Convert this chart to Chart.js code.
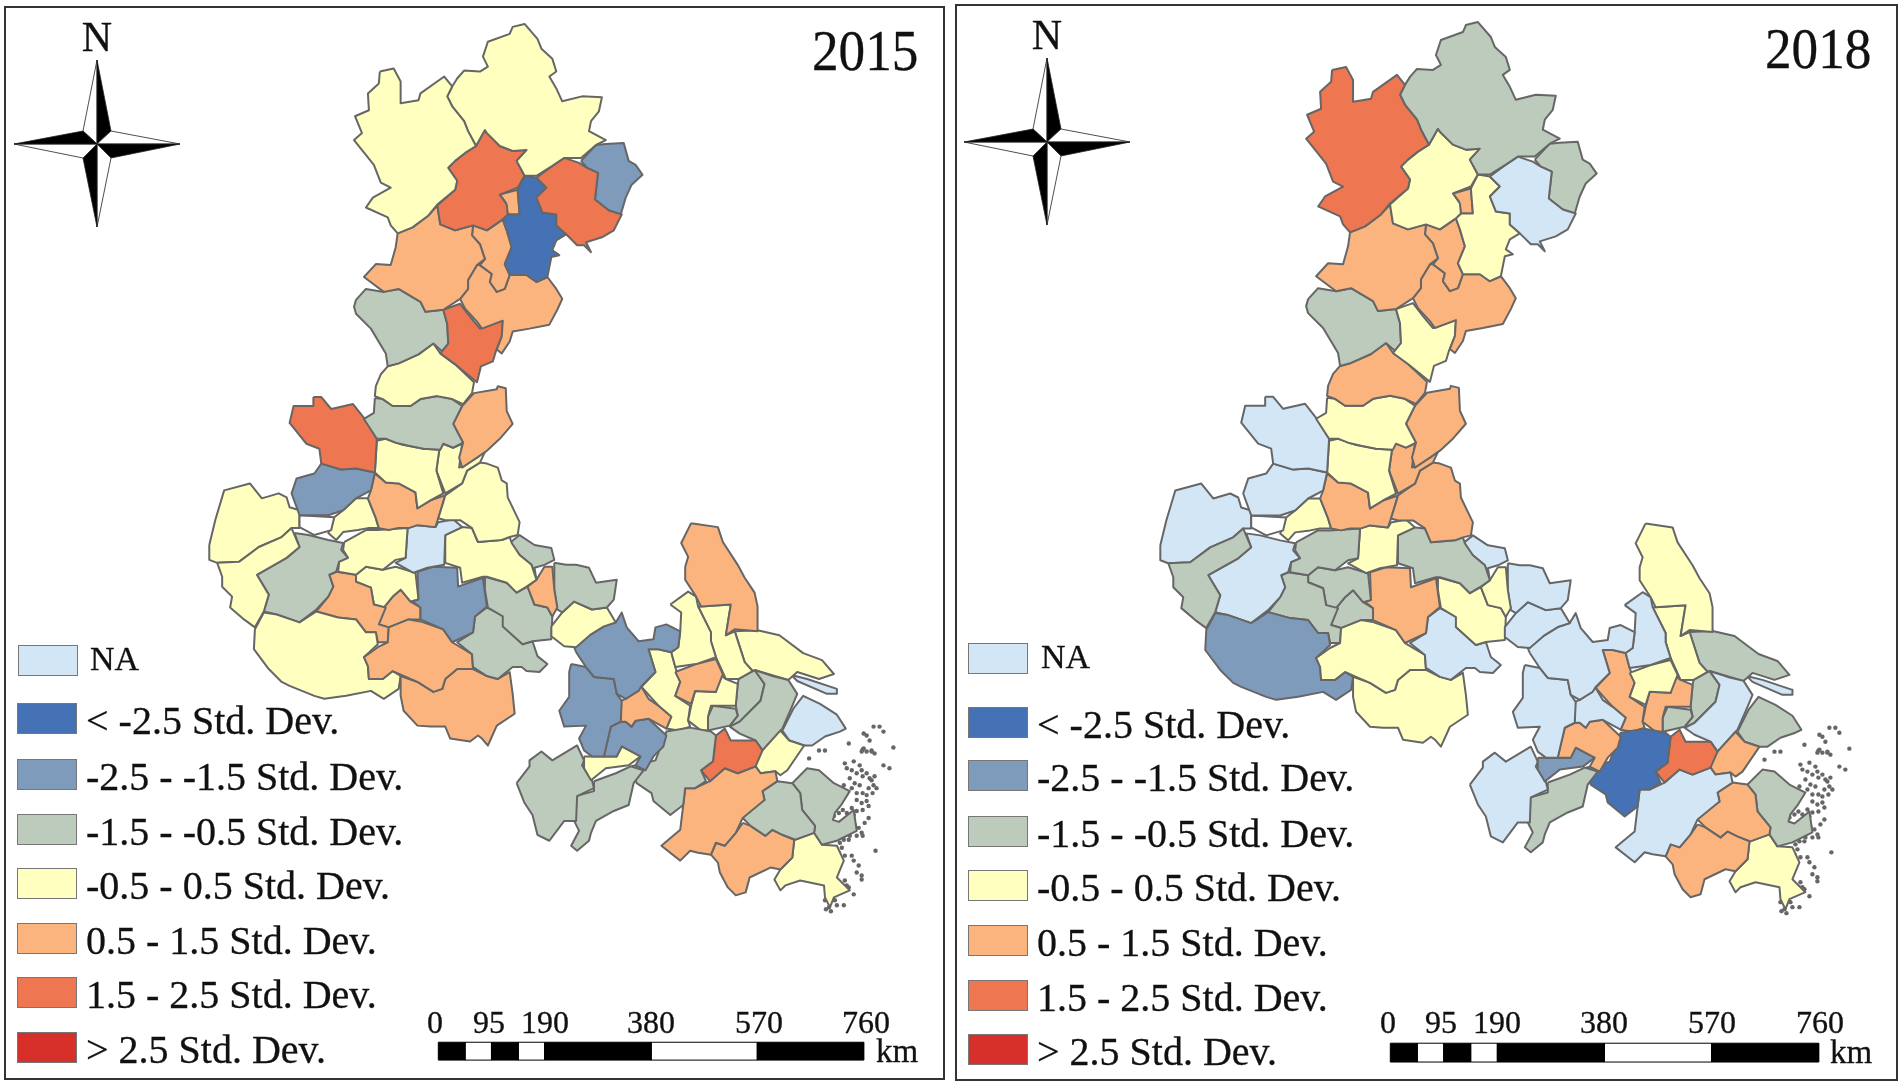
<!DOCTYPE html>
<html>
<head>
<meta charset="utf-8">
<title>Std. Dev. map 2015 / 2018</title>
<script src="https://cdn.jsdelivr.net/npm/chart.js@4/dist/chart.umd.js"></script>
<style>
  html, body { margin: 0; padding: 0; background: #fff; }
  body { width: 1902px; height: 1087px; position: relative; overflow: hidden; font-family: "Liberation Serif", serif; color: #111; }
  .panel { position: absolute; outline: 2px solid #333; background: #fff; }
  .panel canvas { position: absolute; left: 0; top: 0; }
  .txt { position: absolute; white-space: nowrap; line-height: 1; -webkit-text-stroke: 0.3px #111; }
  .swatch { position: absolute; box-sizing: border-box; border: 1.5px solid #777; }
  svg { position: absolute; }
</style>
</head>
<body>
<script>
// Class labels and fills, same order in the legend
const legendLabels = ["NA", "< -2.5 Std. Dev.", "-2.5 - -1.5 Std. Dev.", "-1.5 - -0.5 Std. Dev.", "-0.5 - 0.5 Std. Dev.", "0.5 - 1.5 Std. Dev.", "1.5 - 2.5 Std. Dev.", "> 2.5 Std. Dev."];
const legendColors = ["#d3e6f5", "#4472b4", "#7f9bbb", "#bdcbbd", "#ffffc0", "#fbb47e", "#ee7650", "#d7302a"];
const years = ["2015", "2018"];
const scaleTicks = [0, 95, 190, 380, 570, 760];
const scaleBreaks = [0, 47.5, 95, 142.5, 190, 380, 570, 760];

// Region outlines
const r1 = [[379,68],[393,65],[400,78],[400,100],[418,97],[420,90],[444,73],[452,83],[447,93],[452,103],[464,118],[468,128],[476,143],[465,150],[455,158],[448,165],[457,178],[455,187],[437,202],[428,213],[412,225],[397,231],[390,223],[387,215],[365,205],[372,195],[390,185],[380,180],[373,162],[353,137],[361,130],[354,113],[368,107],[367,90],[378,80]];
const r2 = [[447,93],[452,83],[457,75],[464,67],[480,68],[488,63],[483,53],[488,38],[510,30],[513,23],[525,20],[538,35],[542,45],[553,55],[557,68],[550,73],[557,85],[563,98],[583,93],[603,94],[600,108],[592,118],[590,128],[607,137],[597,142],[582,155],[565,155],[553,163],[537,173],[525,173],[517,158],[527,147],[513,148],[500,143],[487,130],[485,127],[476,143],[468,128],[464,118],[452,103]];
const r3 = [[476,143],[485,127],[487,130],[500,143],[513,148],[527,147],[517,158],[525,173],[518,185],[500,192],[507,202],[508,212],[503,217],[487,228],[473,223],[455,228],[440,222],[437,203],[455,187],[457,178],[448,165],[455,158],[465,150]];
const r4 = [[565,155],[580,160],[588,165],[599,170],[596,197],[610,208],[623,212],[615,228],[603,235],[587,240],[592,250],[585,243],[578,243],[567,232],[557,223],[557,212],[543,210],[537,195],[547,185],[537,175],[553,163]];
const r5 = [[582,158],[597,142],[607,141],[625,140],[630,158],[637,162],[644,172],[633,182],[627,195],[622,212],[610,208],[596,197],[599,170],[588,165]];
const r6 = [[525,173],[537,175],[547,185],[537,195],[543,210],[557,212],[557,223],[567,232],[557,238],[553,248],[560,253],[552,255],[548,275],[537,280],[527,273],[510,273],[505,262],[512,245],[507,228],[503,217],[508,212],[520,212],[518,187]];
const r7 = [[500,192],[518,187],[520,212],[508,212],[506,200]];
const r8 = [[397,231],[412,225],[428,213],[437,203],[440,222],[455,228],[473,223],[472,233],[480,242],[485,257],[477,263],[468,278],[468,287],[460,297],[443,308],[425,310],[420,300],[398,287],[383,290],[363,275],[375,262],[390,263],[395,245]];
const r9 = [[473,223],[487,228],[503,217],[507,228],[512,245],[505,262],[510,273],[505,287],[497,290],[490,280],[492,272],[480,263],[485,257],[480,242],[472,233]];
const r10 = [[477,263],[480,263],[492,272],[490,280],[497,290],[505,287],[510,273],[527,273],[537,280],[548,275],[557,287],[563,297],[558,308],[550,323],[530,327],[513,330],[510,340],[502,352],[497,348],[502,335],[503,319],[482,327],[477,320],[465,307],[460,297],[468,287],[468,278]];
const r11 = [[443,308],[460,302],[470,315],[480,327],[503,319],[502,335],[496,350],[493,360],[481,365],[477,381],[455,363],[440,352],[448,342],[447,322]];
const r12 = [[355,298],[365,287],[383,290],[398,287],[420,300],[425,310],[443,308],[447,322],[448,342],[442,350],[433,342],[418,353],[398,362],[387,365],[385,352],[370,327],[355,312],[353,305]];
const r13 = [[387,365],[398,362],[418,353],[433,342],[440,352],[455,363],[474,381],[472,392],[463,403],[452,398],[437,395],[420,398],[410,405],[392,405],[382,398],[374,395],[375,385],[380,373]];
const r14 = [[374,397],[382,398],[392,405],[410,405],[420,398],[437,395],[452,398],[462,405],[453,423],[463,442],[453,447],[443,443],[440,449],[423,448],[408,445],[395,442],[385,438],[376,438],[363,418],[373,412]];
const r15 = [[462,405],[474,392],[497,388],[498,385],[506,387],[507,410],[513,423],[500,438],[487,450],[477,457],[462,467],[459,457],[463,442],[453,423]];
const r16 = [[312,396],[320,396],[330,408],[352,403],[363,417],[376,438],[374,472],[355,468],[340,469],[320,463],[318,448],[305,443],[288,422],[292,405],[312,405]];
const r17 = [[320,463],[340,469],[355,468],[374,472],[370,490],[355,498],[342,510],[327,515],[298,515],[290,493],[295,478],[313,473]];
const r18 = [[376,440],[385,438],[402,444],[423,448],[439,449],[436,470],[443,493],[430,500],[417,508],[415,492],[398,483],[385,482],[374,472]];
const r19 = [[395,460],[405,460],[407,473],[427,470],[430,473],[417,487],[405,485],[393,473]];
const r18b = [[436,470],[443,493],[430,500],[417,508],[415,492],[405,485],[417,487],[430,473]];
const r20 = [[439,449],[443,443],[453,447],[462,443],[459,467],[477,457],[483,452],[487,447],[480,462],[467,470],[462,483],[445,493],[436,470]];
const r21 = [[445,495],[462,483],[467,470],[480,462],[487,463],[498,467],[502,480],[507,483],[508,497],[520,522],[518,535],[510,537],[502,540],[478,542],[472,528],[460,520],[445,520],[438,518],[443,502]];
const r22 = [[374,473],[385,482],[398,483],[415,492],[417,508],[430,500],[445,495],[438,518],[435,527],[417,525],[408,528],[397,528],[388,530],[378,528],[375,518],[367,498],[370,490]];
const r23 = [[298,515],[333,517],[330,530],[313,535],[298,527]];
const r24 = [[333,517],[342,510],[355,498],[367,498],[375,518],[378,528],[367,528],[357,530],[342,532],[335,540],[327,533],[330,527]];
const r25 = [[343,542],[365,530],[377,530],[407,528],[405,558],[395,560],[382,570],[365,567],[355,575],[337,572],[338,562],[347,558],[342,550]];
const r26 = [[407,528],[417,525],[435,527],[438,522],[453,519],[462,527],[445,535],[444,565],[427,568],[413,573],[395,563],[405,558]];
const r27 = [[445,535],[462,527],[472,528],[478,542],[502,540],[510,537],[512,543],[520,555],[532,565],[537,580],[527,587],[517,593],[507,583],[487,577],[483,577],[462,583],[460,568],[445,563]];
const r28 = [[510,543],[520,535],[535,545],[552,548],[555,560],[545,565],[535,568],[537,580],[532,565],[520,555]];
const r29 = [[528,587],[537,580],[545,567],[553,567],[555,590],[558,608],[553,617],[548,608],[535,605]];
const r30 = [[555,563],[567,565],[577,565],[590,568],[597,583],[618,580],[615,600],[608,608],[593,610],[575,602],[563,613],[558,610],[555,590]];
const r31 = [[552,627],[563,613],[575,602],[593,610],[608,608],[617,623],[605,627],[592,635],[577,648],[565,647],[552,637]];
const r32 = [[485,577],[507,583],[517,593],[528,587],[535,605],[548,608],[553,617],[552,640],[533,642],[523,645],[503,627],[503,617],[488,608],[485,590]];
const r33 = [[417,572],[433,567],[457,568],[458,587],[483,578],[487,607],[475,617],[473,633],[452,643],[443,630],[420,620],[420,608],[412,602],[418,600]];
const r34 = [[487,608],[505,617],[503,627],[523,645],[533,642],[538,657],[548,665],[540,673],[527,672],[522,668],[513,668],[498,680],[487,677],[473,668],[472,655],[457,643],[473,633],[475,617]];
const r35 = [[388,628],[408,620],[420,622],[443,630],[452,643],[472,655],[473,670],[457,670],[445,680],[442,690],[433,693],[417,683],[403,677],[392,672],[382,680],[368,680],[367,667],[363,658],[377,648],[387,643]];
const r36 = [[400,677],[417,683],[433,693],[442,690],[445,680],[457,670],[473,670],[487,677],[498,680],[510,673],[513,695],[515,715],[497,727],[488,747],[482,740],[478,737],[470,743],[450,740],[445,728],[430,728],[417,727],[403,712],[400,697]];
const r37 = [[262,613],[275,615],[298,623],[315,612],[337,618],[355,620],[365,633],[375,633],[377,645],[363,658],[367,667],[368,680],[382,680],[392,672],[400,677],[398,690],[383,700],[370,692],[345,697],[323,700],[313,697],[288,687],[280,683],[267,670],[252,650],[253,630]];
const r38 = [[215,563],[237,562],[257,547],[280,537],[290,528],[298,547],[285,558],[255,575],[267,595],[262,612],[253,628],[242,620],[228,608],[230,597],[220,587],[220,577]];
const r39 = [[207,545],[213,520],[222,490],[248,483],[260,498],[277,493],[285,497],[288,507],[298,510],[298,528],[290,528],[280,537],[257,547],[237,562],[215,563],[207,560]];
const r40 = [[293,533],[307,535],[327,540],[342,543],[340,550],[347,558],[338,562],[335,572],[328,575],[332,587],[327,597],[315,610],[298,623],[275,615],[262,612],[267,595],[255,575],[285,558],[298,547]];
const r41 = [[328,575],[335,572],[355,575],[355,582],[370,588],[373,605],[385,608],[378,625],[388,628],[387,643],[377,643],[375,633],[365,633],[355,620],[337,618],[315,612],[327,597],[332,587]];
const r42 = [[355,575],[365,567],[382,570],[395,567],[415,573],[418,600],[410,602],[400,590],[392,597],[383,608],[373,605],[370,588],[355,582]];
const r43 = [[383,608],[392,597],[400,590],[410,602],[420,608],[420,620],[408,620],[388,628],[378,625]];
const r44 = [[577,653],[575,648],[592,635],[605,627],[617,623],[623,613],[628,628],[640,642],[655,640],[657,628],[668,625],[682,632],[680,648],[673,653],[660,650],[650,650],[657,673],[643,687],[640,692],[627,700],[618,695],[615,680],[595,678],[587,668]];
const r45 = [[572,665],[587,668],[595,678],[615,680],[618,695],[623,702],[622,723],[612,728],[605,758],[593,758],[585,752],[580,740],[587,727],[565,728],[560,712],[570,698],[570,673]];
const r47 = [[622,702],[627,700],[643,688],[650,700],[660,707],[673,718],[668,730],[650,720],[637,722],[633,728],[627,723],[622,723]];
const r48 = [[612,728],[622,723],[627,723],[633,728],[637,722],[650,720],[668,737],[665,748],[655,758],[647,772],[637,767],[642,758],[623,748],[618,758],[605,758]];
const r49 = [[585,758],[605,758],[618,758],[623,748],[642,758],[630,767],[607,770],[592,782],[585,770]];
const r50 = [[517,785],[530,768],[530,762],[542,753],[553,762],[578,747],[585,762],[583,767],[593,782],[595,790],[578,798],[577,823],[565,823],[550,843],[538,837],[533,817],[525,805]];
const r51 = [[595,783],[617,775],[632,768],[645,772],[635,785],[630,807],[615,813],[597,823],[592,835],[590,843],[578,853],[572,848],[580,833],[575,823],[577,798],[595,793]];
const r52 = [[633,768],[657,762],[668,733],[692,729],[713,733],[718,737],[715,763],[703,772],[708,783],[697,790],[687,790],[685,807],[672,817],[655,803],[653,795],[638,785]];
const r53 = [[718,737],[727,730],[733,742],[758,742],[765,752],[758,768],[740,775],[727,770],[712,783],[703,772],[715,763]];
const r54 = [[712,783],[727,770],[740,775],[758,768],[763,775],[778,773],[780,783],[765,793],[767,802],[745,820],[738,835],[727,848],[718,845],[713,857],[700,855],[692,853],[682,863],[663,848],[682,832],[685,807],[687,790],[697,790]];
const r55 = [[758,768],[760,757],[765,752],[783,732],[792,742],[807,747],[790,772],[783,777],[778,773],[763,775]];
const r56 = [[785,732],[796,710],[806,697],[823,705],[840,716],[849,730],[843,733],[828,738],[815,747],[807,747],[792,742]];
const r57 = [[757,671],[775,677],[791,681],[800,695],[795,707],[785,730],[765,752],[758,742],[742,735],[732,728],[742,723],[763,702],[767,685]];
const r60 = [[693,523],[720,527],[725,542],[740,565],[747,578],[757,593],[760,607],[760,632],[737,630],[728,636],[733,605],[703,607],[698,597],[687,580],[687,567],[690,557],[683,543]];
const r61 = [[672,605],[690,592],[698,597],[700,607],[713,633],[713,642],[718,658],[698,665],[677,668],[673,653],[680,648],[682,632],[683,613]];
const r62 = [[703,607],[733,605],[728,636],[737,632],[747,663],[755,672],[741,680],[728,680],[718,658],[713,642],[713,633],[700,607]];
const r63 = [[737,632],[760,631],[782,636],[806,654],[825,661],[837,675],[822,680],[800,673],[791,681],[757,671],[755,672],[747,663]];
const r64 = [[677,673],[698,665],[718,660],[725,675],[718,693],[697,692],[693,705],[677,697],[682,683]];
const r65 = [[693,707],[697,692],[718,693],[721,675],[728,680],[740,685],[738,707],[722,707],[713,707],[710,718],[710,732],[703,732],[690,722]];
const r66 = [[710,732],[710,718],[715,707],[738,710],[740,717],[732,727]];
const r67 = [[650,650],[660,650],[673,653],[677,668],[682,683],[677,697],[692,707],[690,722],[692,728],[680,732],[668,730],[673,718],[660,707],[643,688],[657,673]];
const r68 = [[741,680],[757,671],[767,685],[763,702],[742,723],[735,727],[732,727],[740,717],[738,707],[740,685]];
const r71 = [[765,793],[780,783],[795,785],[803,795],[805,812],[818,828],[817,835],[798,842],[785,837],[775,832],[768,838],[753,828],[745,820],[756,806],[767,802]];
const r72 = [[745,825],[753,828],[768,838],[775,832],[785,837],[797,842],[795,860],[783,872],[773,870],[752,880],[748,895],[738,898],[730,890],[722,875],[720,865],[713,857],[718,845],[727,848],[738,835]];
const r73 = [[795,785],[810,770],[822,772],[837,785],[853,793],[845,806],[838,815],[836,822],[842,824],[857,812],[860,833],[840,843],[825,847],[817,835],[818,828],[805,812],[803,795]];
const r74 = [[797,842],[817,835],[825,847],[840,848],[847,863],[840,880],[853,893],[837,900],[833,910],[828,900],[827,888],[803,883],[788,888],[783,893],[777,882],[783,872],[795,860]];
const r75 = [[794,676],[810,680],[840,690],[840,695],[830,695],[800,682]];
const islands = [[867,750],[883,728],[870,737],[887,733],[852,745],[893,770],[887,767],[897,749],[828,752],[822,752],[812,760],[848,765],[857,763],[863,767],[865,772],[873,780],[877,787],[870,797],[860,802],[853,780],[847,787],[863,787],[870,803],[872,820],[857,817],[850,815],[837,818],[832,825],[858,827],[865,835],[853,838],[847,842],[879,853],[842,855],[857,863],[862,868],[865,882],[848,883],[852,890],[857,897],[828,903],[832,910],[840,908],[847,908],[865,753],[875,753],[873,742],
  [850,770],[855,772],[860,775],[866,778],[870,775],[875,782],[878,778],[880,790],[876,795],[872,790],[866,795],[865,805],[872,808],[860,795],[855,790],[850,795],[858,785],
  [830,820],[834,822],[835,818],[842,815],[846,812],[855,810],[860,813],[866,812],[868,825],[862,830],[860,838],[852,842],[843,845],[866,838],
  [845,850],[848,858],[855,858],[860,875],[865,878],[850,888],[847,893],[838,903],[833,905],[829,912],[834,914],
  [866,751],[870,753],[875,752],[878,755],[867,735],[877,728]];

const regions = [
  r1, r2, r3, r4, r5, r6, r7, r8, r9, r10,
  r11, r12, r13, r14, r15, r16, r17, r18, r19, r18b,
  r20, r21, r22, r23, r24, r25, r26, r27, r28, r29,
  r30, r31, r32, r33, r34, r35, r36, r37, r38, r39,
  r40, r41, r42, r43, r44, r45, r47, r48, r49, r50,
  r51, r52, r53, r54, r55, r56, r57, r60, r61, r62,
  r63, r64, r65, r66, r67, r68, r71, r72, r73, r74,
  r75
];
// Index into legendColors for each region, 8 = hole in the map
const class2015 = [
  4, 4, 6, 6, 2, 1, 5, 5, 5, 5,
  6, 3, 4, 3, 5, 6, 2, 4, 4, 4,
  4, 4, 5, 8, 4, 4, 0, 4, 3, 5,
  3, 4, 3, 2, 3, 5, 5, 4, 4, 4,
  3, 5, 4, 5, 2, 2, 5, 2, 4, 3,
  3, 3, 6, 5, 4, 0, 3, 5, 4, 4,
  4, 5, 4, 3, 4, 3, 3, 5, 3, 4,
  0
];
const class2018 = [
  6, 3, 4, 0, 3, 4, 5, 5, 5, 5,
  4, 3, 5, 4, 5, 0, 0, 4, 6, 4,
  5, 5, 5, 8, 4, 3, 4, 3, 0, 4,
  0, 0, 4, 5, 0, 4, 4, 2, 3, 0,
  0, 3, 3, 3, 0, 0, 0, 5, 2, 0,
  3, 1, 6, 0, 5, 3, 0, 4, 0, 4,
  3, 4, 5, 3, 5, 3, 5, 5, 3, 4,
  0
];

function toPoints(outline) {
  const pts = outline.map((p) => ({ x: p[0], y: p[1] }));
  pts.push({ x: outline[0][0], y: outline[0][1] }); // close the ring
  return pts;
}

function fillFor(classIdx) {
  return classIdx === 8 ? "#ffffff" : legendColors[classIdx];
}

function scaleBarDatasets(bar) {
  const kmToMap = (km) => bar.x0 + km * bar.perKm;
  const sets = [];
  for (let i = 0; i < scaleBreaks.length - 1; i++) {
    const a = kmToMap(scaleBreaks[i]);
    const b = kmToMap(scaleBreaks[i + 1]);
    sets.push({
      data: [{ x: a, y: bar.y0 }, { x: b, y: bar.y0 }, { x: b, y: bar.y1 }, { x: a, y: bar.y1 }, { x: a, y: bar.y0 }],
      showLine: true,
      fill: "shape",
      backgroundColor: i % 2 === 0 ? "#000" : "#fff",
      borderColor: "#000",
      borderWidth: 1,
      pointRadius: 0,
    });
  }
  return sets;
}

function drawMap(canvas, classes, view) {
  const datasets = regions.map((outline, i) => ({
    data: toPoints(outline),
    showLine: true,
    fill: "shape",
    backgroundColor: fillFor(classes[i]),
    borderColor: "#666",
    borderWidth: 2,
    borderJoinStyle: "round",
    pointRadius: 0,
    tension: 0,
  }));
  datasets.push({
    data: islands.map((p) => ({ x: p[0], y: p[1] })),
    showLine: false,
    pointRadius: 2.2,
    pointBackgroundColor: "#666",
    pointBorderWidth: 0,
  });
  scaleBarDatasets(view.bar).forEach((d) => datasets.push(d));

  return new Chart(canvas, {
    type: "scatter",
    data: { datasets: datasets },
    options: {
      responsive: false,
      animation: false,
      layout: { padding: 0 },
      plugins: { legend: { display: false }, tooltip: { enabled: false } },
      scales: {
        x: { display: false, type: "linear", min: view.xMin, max: view.xMax },
        y: { display: false, type: "linear", reverse: true, min: view.yMin, max: view.yMax },
      },
    },
  });
}

function addText(parent, text, x, y, size, anchor) {
  const el = document.createElement("div");
  el.className = "txt";
  el.textContent = text;
  el.style.fontSize = size + "px";
  el.style.left = x + "px";
  el.style.top = y + "px";
  if (anchor === "center") el.style.transform = "translateX(-50%)";
  parent.appendChild(el);
  return el;
}

function addCompass(parent, cx, cy) {
  const ns = "http://www.w3.org/2000/svg";
  const svg = document.createElementNS(ns, "svg");
  svg.setAttribute("width", 180);
  svg.setAttribute("height", 180);
  svg.style.left = cx - 90 + "px";
  svg.style.top = cy - 90 + "px";
  // tip, shoulder, fill for each half arm, relative to the centre
  const arms = [
    ["0,-84", "-14,-13", "#fff"], ["0,-84", "14,-13", "#000"],
    ["83,0", "14,-13", "#fff"], ["83,0", "14,14", "#000"],
    ["0,83", "14,14", "#fff"], ["0,83", "-14,14", "#000"],
    ["-83,0", "-14,14", "#fff"], ["-83,0", "-14,-13", "#000"],
  ];
  arms.forEach((a) => {
    const p = document.createElementNS(ns, "polygon");
    p.setAttribute("points", a[0] + " " + a[1] + " 0,0");
    p.setAttribute("fill", a[2]);
    p.setAttribute("stroke", "#222");
    p.setAttribute("stroke-width", "0.8");
    p.setAttribute("transform", "translate(90,90)");
    svg.appendChild(p);
  });
  parent.appendChild(svg);
}

const panels = [
  {
    left: 6, top: 8, width: 937, height: 1070, classes: class2015, year: years[0], yearX: 812, yearY: 23,
    view: { xMin: 6, xMax: 943, yMin: 8, yMax: 1078, bar: { x0: 438, perKm: 0.5645, y0: 1046, y1: 1064 } },
    north: [97, 16], compass: [97, 144],
    swatchX: 17, swatchY: [645, 703, 759, 814, 868, 923, 977, 1032], swatchH: 31, textX: 86,
    tickX: [435, 489, 545, 651, 759, 866], tickY: 1006, kmX: 876, kmY: 1035,
  },
  {
    left: 957, top: 6, width: 939, height: 1073, classes: class2018, year: years[1], yearX: 1765, yearY: 21,
    view: { xMin: 7.4, xMax: 939.7, yMin: 7.9, yMax: 1076.4, bar: { x0: 437.3, perKm: 0.5644, y0: 1044.5, y1: 1063.4 } },
    north: [1047, 14], compass: [1047, 142],
    swatchX: 968, swatchY: [643, 707, 760, 816, 870, 925, 980, 1034], swatchH: 31, textX: 1037,
    tickX: [1388, 1441, 1497, 1604, 1712, 1820], tickY: 1006, kmX: 1830, kmY: 1036,
  },
];

panels.forEach((p) => {
  const box = document.createElement("div");
  box.className = "panel";
  box.style.cssText = `left:${p.left}px;top:${p.top}px;width:${p.width}px;height:${p.height}px`;
  const canvas = document.createElement("canvas");
  canvas.width = p.width;
  canvas.height = p.height;
  canvas.style.width = p.width + "px";
  canvas.style.height = p.height + "px";
  box.appendChild(canvas);
  document.body.appendChild(box);
  drawMap(canvas, p.classes, p.view);

  const yearEl = addText(document.body, p.year, p.yearX, p.yearY, 56);
  yearEl.style.transformOrigin = "left top";
  yearEl.style.transform = "scaleX(0.95)";
  addText(document.body, "N", p.north[0], p.north[1], 42, "center");
  addCompass(document.body, p.compass[0], p.compass[1]);

  legendLabels.forEach((label, i) => {
    const sw = document.createElement("div");
    sw.className = "swatch";
    sw.style.cssText = `left:${p.swatchX + (i === 0 && p === panels[0] ? 1 : 0)}px;top:${p.swatchY[i]}px;width:60px;height:${p.swatchH}px;background:${legendColors[i]}`;
    document.body.appendChild(sw);
    const size = i === 0 ? 34 : 40;
    const nudge = i === 0 ? -2 : 2; // labels sit a little off the swatch centre
    addText(document.body, label, p.textX + (i === 0 ? 4 : 0), p.swatchY[i] + p.swatchH / 2 - size * 0.5 + nudge, size);
  });

  scaleTicks.forEach((t, i) => {
    addText(document.body, String(t), p.tickX[i], p.tickY, 32, "center");
  });
  addText(document.body, "km", p.kmX, p.kmY, 33);
});
</script>
</body>
</html>
